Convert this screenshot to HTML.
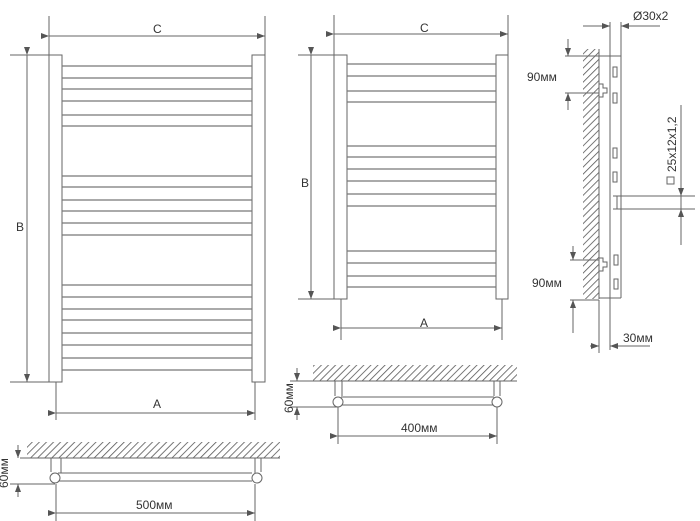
<!DOCTYPE html>
<html><head><meta charset="utf-8"><style>
html,body{margin:0;padding:0;background:#fff;}
svg{display:block}
text{font-family:"Liberation Sans",sans-serif;fill:#333;font-size:12px}
</style></head><body>
<svg width="700" height="521" viewBox="0 0 700 521" xmlns="http://www.w3.org/2000/svg">
<defs>
<pattern id="h" width="5" height="5" patternUnits="userSpaceOnUse" patternTransform="rotate(45)">
<line x1="0" y1="0" x2="0" y2="5" stroke="#555" stroke-width="1.6"/></pattern>
<marker id="a" markerWidth="8" markerHeight="6" refX="8" refY="3" orient="auto" markerUnits="userSpaceOnUse"><path d="M0,0 L8,3 L0,6z" fill="#555"/></marker>
</defs>
<g stroke="#666" stroke-width="1" fill="none">
<rect x="49" y="55" width="13" height="327" fill="#fff"/>
<rect x="252" y="55" width="13" height="327" fill="#fff"/>
<g stroke="#777" stroke-width="1.3">
<path d="M62 66H252M62 78H252M62 89H252M62 101H252M62 115H252M62 126H252M62 176H252M62 187H252M62 200H252M62 211H252M62 223H252M62 235H252M62 285H252M62 297H252M62 309H252M62 320H252M62 333H252M62 345H252M62 358H252M62 370H252"/>
</g>
<path d="M49 16V55M265 16V55M10 55H49M10 382H49M56 382V420M255 382V420"/>
<line x1="49" y1="36" x2="265" y2="36" marker-start="url(#a)" marker-end="url(#a)"/>
<line x1="27" y1="55" x2="27" y2="382" marker-start="url(#a)" marker-end="url(#a)"/>
<line x1="56" y1="413" x2="255" y2="413" marker-start="url(#a)" marker-end="url(#a)"/>
<rect x="334" y="55" width="13" height="244" fill="#fff"/>
<rect x="496" y="55" width="12" height="244" fill="#fff"/>
<path stroke="#777" stroke-width="1.3" d="M347 64H496M347 76H496M347 91H496M347 102H496M347 146H496M347 157H496M347 169H496M347 181H496M347 194H496M347 206H496M347 251H496M347 263H496M347 276H496M347 287H496"/>
<path d="M334 15V55M508 15V55M298 55H334M298 299H334M341 299V340M502 299V340"/>
<line x1="334" y1="34" x2="508" y2="34" marker-start="url(#a)" marker-end="url(#a)"/>
<line x1="311" y1="55" x2="311" y2="299" marker-start="url(#a)" marker-end="url(#a)"/>
<line x1="341" y1="328" x2="502" y2="328" marker-start="url(#a)" marker-end="url(#a)"/>
<rect x="27" y="442" width="253" height="16" fill="url(#h)" stroke="none"/>
<path d="M20 458H280M48 458H64M61 458V473M252 458H268M255 458V473M51 458V472M261 458V472"/>
<path d="M58 473H252M58 481H252"/>
<circle cx="55" cy="478" r="5" fill="#fff"/><circle cx="257" cy="478" r="5" fill="#fff"/>
<path d="M10 484H55M56 484V521M255 484V521"/>
<line x1="18" y1="445" x2="18" y2="458" marker-end="url(#a)"/>
<line x1="18" y1="497" x2="18" y2="484" marker-end="url(#a)"/>
<line x1="56" y1="513" x2="255" y2="513" marker-start="url(#a)" marker-end="url(#a)"/>
<rect x="313" y="365" width="204" height="16" fill="url(#h)" stroke="none"/>
<path d="M290 381H517M330 381H345M335 381V396M342 381V396M490 381H505M494 381V396M500 381V396"/>
<path d="M341 397H494M341 405H494"/>
<circle cx="338" cy="402" r="5" fill="#fff"/><circle cx="497" cy="402" r="5" fill="#fff"/>
<path d="M290 407H338M338 407V444M497 407V444"/>
<line x1="297" y1="368" x2="297" y2="381" marker-end="url(#a)"/>
<line x1="297" y1="420" x2="297" y2="407" marker-end="url(#a)"/>
<line x1="338" y1="436" x2="497" y2="436" marker-start="url(#a)" marker-end="url(#a)"/>
<rect x="583" y="49" width="16" height="250" fill="url(#h)" stroke="none"/>
<path d="M599 49V299M610 22V350M621 22V298M599 56H621M599 298H621"/>
<rect x="613" y="67" width="4" height="10"/><rect x="613" y="93" width="4" height="10"/>
<rect x="613" y="148" width="4" height="10"/><rect x="613" y="172" width="4" height="10"/>
<rect x="614" y="255" width="4" height="10"/><rect x="614" y="279" width="4" height="10"/>
<path d="M599 84H603V88H607V93H603V97H599M599 258H603V262H607V267H603V271H599"/>
<path d="M613 196H695M613 209H695M617 196V209"/>
<path d="M681 105V245M565 56H599M565 93H599M570 260H599M570 300H599M599 300V353"/>
<line x1="681" y1="186" x2="681" y2="196" marker-end="url(#a)"/>
<line x1="681" y1="219" x2="681" y2="209" marker-end="url(#a)"/>
<line x1="568" y1="39" x2="568" y2="56" marker-end="url(#a)"/>
<line x1="568" y1="110" x2="568" y2="93" marker-end="url(#a)"/>
<line x1="573" y1="246" x2="573" y2="260" marker-end="url(#a)"/>
<line x1="573" y1="333" x2="573" y2="300" marker-end="url(#a)"/>
<line x1="583" y1="26" x2="610" y2="26" marker-end="url(#a)"/>
<line x1="660" y1="26" x2="621" y2="26" marker-end="url(#a)"/>
<line x1="590" y1="346" x2="599" y2="346" marker-end="url(#a)"/>
<line x1="650" y1="346" x2="610" y2="346" marker-end="url(#a)"/>
<rect x="667" y="177" width="7" height="7"/>
</g>
<text x="153" y="33">C</text>
<text x="16" y="231">B</text>
<text x="153" y="408">A</text>
<text x="420" y="32">C</text>
<text x="301" y="187">B</text>
<text x="420" y="327">A</text>
<text x="136" y="509">500мм</text>
<text x="401" y="432">400мм</text>
<text x="633" y="20">Ø30x2</text>
<text x="527" y="81">90мм</text>
<text x="532" y="287">90мм</text>
<text x="623" y="342">30мм</text>
<text transform="translate(676,172) rotate(-90)">25x12x1,2</text>
<text transform="translate(293,413) rotate(-90)">60мм</text>
<text transform="translate(8,488) rotate(-90)">60мм</text>
</svg>
</body></html>
